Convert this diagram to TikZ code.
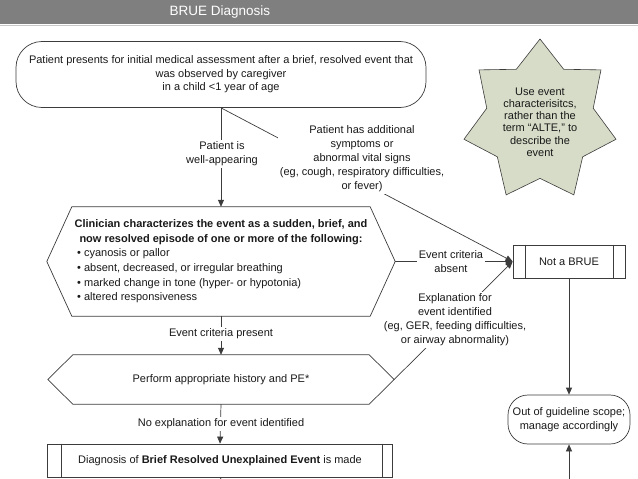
\documentclass[tikz,border=0pt]{standalone}
\usepackage{fontspec}
\setmainfont{Liberation Sans}
\usetikzlibrary{arrows.meta,calc}
\definecolor{hdrgray}{RGB}{127,127,127}
\definecolor{hdrline}{RGB}{200,200,200}
\definecolor{linecol}{RGB}{60,60,60}
\definecolor{txtcol}{RGB}{25,25,25}
\definecolor{starfill}{RGB}{214,220,199}
\begin{document}
\begin{tikzpicture}[x=1pt,y=-1pt,
  every node/.style={font=\fontsize{11}{14}\selectfont, text=txtcol, inner sep=0pt},
  shp/.style={draw=linecol, line width=0.7pt},
  conn/.style={draw=linecol, line width=0.7pt},
  arr/.style={conn, -{Triangle[length=7pt,width=6pt]}},
  lbl/.style={fill=white, align=center, inner sep=1.5pt},
  procbox/.style={shp, minimum height=33pt},
]
\useasboundingbox (0,0) rectangle (638,479);
% header
\fill[hdrgray] (0,0) rectangle (638,24);
\draw[hdrline, line width=1pt] (0,25) -- (638,25);
\node[font=\fontsize{13.5}{16}\selectfont, text=white] (title) at (220,12) {BRUE Diagnosis};

% star note
\begin{scope}[shift={(540,121)}]
\draw[draw=linecol, line width=0.6pt, fill=starfill] (-90:78 and 82)
  \foreach \i in {1,...,13}{ -- ({-90+\i*360/14}:{78*(1-0.3*mod(\i,2))} and {82*(1-0.3*mod(\i,2))}) } -- cycle;
\end{scope}
\node[align=center, font=\fontsize{11}{12.2}\selectfont] (note) at (540,122)
  {Use event\\characterisitcs,\\rather than the\\term “ALTE,” to\\describe the\\event};

% start
\node[shp, rounded corners=26pt, minimum width=410pt, minimum height=66pt, align=center, font=\fontsize{11}{13.5}\selectfont] (start) at (221,74.5)
  {Patient presents for initial medical assessment after a brief, resolved event that\\was observed by caregiver\\in a child <1 year of age};

% hexagon 1
\node[minimum width=348pt, minimum height=109pt] (hexA) at (221,261.5) {};
\draw[shp] (hexA.west) -- ([xshift=25pt]hexA.north west) -- ([xshift=-25pt]hexA.north east)
  -- (hexA.east) -- ([xshift=-25pt]hexA.south east) -- ([xshift=25pt]hexA.south west) -- cycle;
\node[align=center, font=\fontsize{11}{15}\selectfont\bfseries] (hexAhead) at (221,232.5)
  {Clinician characterizes the event as a sudden, brief, and\\now resolved episode of one or more of the following:};
\node[align=left, anchor=west, font=\fontsize{11}{14.6}\selectfont] (hexAlist) at (77,276)
  {• cyanosis or pallor\\• absent, decreased, or irregular breathing\\• marked change in tone (hyper- or hypotonia)\\• altered responsiveness};

% hexagon 2
\node[minimum width=346pt, minimum height=49pt] (hexB) at (221,379.5) {Perform appropriate history and PE*};
\draw[shp] (hexB.west) -- ([xshift=25pt]hexB.north west) -- ([xshift=-25pt]hexB.north east)
  -- (hexB.east) -- ([xshift=-25pt]hexB.south east) -- ([xshift=25pt]hexB.south west) -- cycle;

% diagnosis
\node[procbox, minimum width=345pt] (diag) at (220,460.5) {Diagnosis of \textbf{Brief Resolved Unexplained Event} is made};
\draw[shp] ([xshift=14pt]diag.north west) -- ([xshift=14pt]diag.south west);
\draw[shp] ([xshift=-11pt]diag.north east) -- ([xshift=-11pt]diag.south east);

% not a BRUE
\node[procbox, minimum width=112pt] (notbrue) at (569,261.5) {Not a BRUE};
\draw[shp] ([xshift=13pt]notbrue.north west) -- ([xshift=13pt]notbrue.south west);
\draw[shp] ([xshift=-12pt]notbrue.north east) -- ([xshift=-12pt]notbrue.south east);

% out of scope
\node[shp, rounded corners=20pt, minimum width=122pt, minimum height=49pt, align=center] (outscope) at (569,419.5)
  {Out of guideline scope;\\manage accordingly};

\coordinate (botR) at (569,479);
\coordinate (botL) at (221,479);

% connectors
\draw[arr] (start.south) -- (hexA.north);
\draw[arr] (start.south) -- (notbrue.west);
\draw[arr] (hexA.east) -- (notbrue.west);
\draw[arr] (hexB.east) -- (notbrue.west);
\draw[arr] (hexA.south) -- (hexB.north);
\draw[arr] (hexB.south) -- (diag.north);
\draw[arr] (notbrue.south) -- (outscope.north);
\draw[arr] (botR) -- (outscope.south);
\draw[conn] (diag.south) -- (botL);

% labels
\node[lbl] (lwell) at (222,154) {Patient is\\well-appearing};
\node[lbl] (lsym) at (362,159) {Patient has additional\\symptoms or\\abnormal vital signs\\(eg, cough, respiratory difficulties,\\or fever)};
\node[lbl] (labs) at (451,261.5) {Event criteria\\absent};
\node[lbl] (lexp) at (455,320) {Explanation for\\event identified\\(eg, GER, feeding difficulties,\\or airway abnormality)};
\node[lbl] (lpres) at (221,334) {Event criteria present};
\node[lbl] (lnoexp) at (221,424) {No explanation for event identified};
\end{tikzpicture}
\end{document}
